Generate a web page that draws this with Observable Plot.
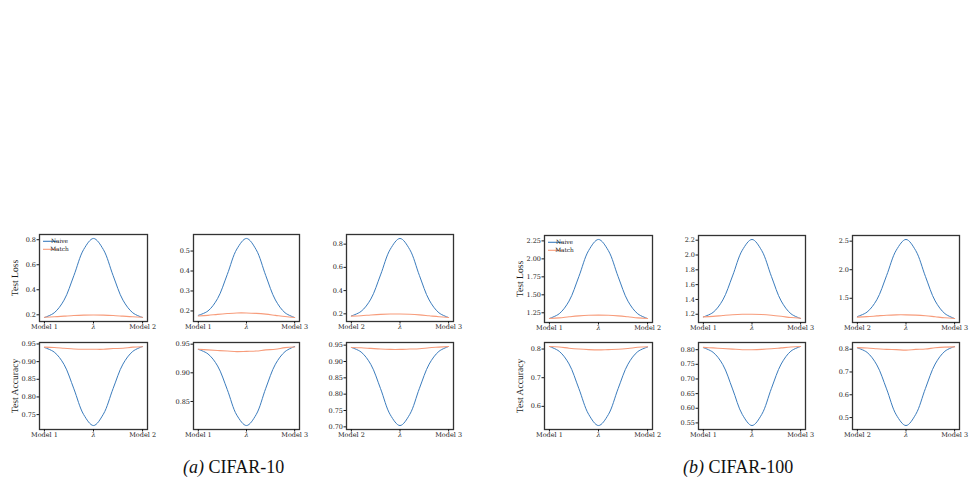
<!DOCTYPE html>
<html>
<head>
<meta charset="utf-8">
<script src="https://cdn.jsdelivr.net/npm/d3@7"></script>
<script src="https://cdn.jsdelivr.net/npm/@observablehq/plot@0.6"></script>
<style>
  html, body { margin: 0; padding: 0; background: #fff; }
  #root { position: relative; width: 973px; height: 492px; overflow: hidden; background: #fff; }
  .panel { position: absolute; }
  .cap { position: absolute; font-family: "Liberation Serif", "Times New Roman", serif; font-size: 18px; line-height: 18px; color: #111; white-space: nowrap; }
  .cap i { font-style: italic; }
  svg text { text-rendering: geometricPrecision; }
</style>
</head>
<body>
<div id="root"></div>
<script>
// ---------- data ----------
const lambda = [0, 0.1, 0.2, 0.3, 0.4, 0.5, 0.6, 0.7, 0.8, 0.9, 1.0];
const seriesNames = ["Naive", "Match"];
const captions = [["(a)", "CIFAR-10"], ["(b)", "CIFAR-100"]];
const yLabels = ["Test Loss", "Test Accuracy"];
const xTickPos = [0, 0.5, 1];
const pairLabels = [["Model 1", "λ", "Model 2"], ["Model 1", "λ", "Model 3"], ["Model 2", "λ", "Model 3"]];

// CIFAR-10 test loss
const c10Loss12Naive = [0.178, 0.216, 0.317, 0.513, 0.722, 0.810, 0.722, 0.513, 0.317, 0.216, 0.178];
const c10Loss12Match = [0.180, 0.184, 0.189, 0.194, 0.197, 0.198, 0.197, 0.194, 0.189, 0.184, 0.180];
const c10Loss13Naive = [0.178, 0.200, 0.262, 0.382, 0.510, 0.563, 0.507, 0.377, 0.255, 0.191, 0.167];
const c10Loss13Match = [0.175, 0.178, 0.183, 0.187, 0.190, 0.190, 0.188, 0.184, 0.178, 0.172, 0.167];
const c10Loss23Naive = [0.182, 0.221, 0.327, 0.535, 0.756, 0.849, 0.754, 0.529, 0.319, 0.209, 0.168];
const c10Loss23Match = [0.180, 0.184, 0.190, 0.195, 0.198, 0.198, 0.196, 0.191, 0.183, 0.175, 0.169];
// CIFAR-10 test accuracy
const c10Acc12Naive = [0.940, 0.927, 0.892, 0.823, 0.750, 0.719, 0.751, 0.824, 0.893, 0.929, 0.943];
const c10Acc12Match = [0.941, 0.940, 0.938, 0.936, 0.935, 0.935, 0.935, 0.937, 0.938, 0.941, 0.942];
const c10Acc13Naive = [0.941, 0.933, 0.912, 0.871, 0.826, 0.808, 0.827, 0.873, 0.915, 0.937, 0.946];
const c10Acc13Match = [0.941, 0.940, 0.939, 0.938, 0.937, 0.9375, 0.938, 0.940, 0.941, 0.944, 0.945];
const c10Acc23Naive = [0.943, 0.929, 0.891, 0.817, 0.737, 0.704, 0.738, 0.818, 0.892, 0.931, 0.946];
const c10Acc23Match = [0.943, 0.942, 0.940, 0.938, 0.937, 0.937, 0.938, 0.939, 0.942, 0.944, 0.946];
// CIFAR-100 test loss
const c100Loss12Naive = [1.171, 1.237, 1.413, 1.754, 2.117, 2.270, 2.116, 1.753, 1.412, 1.236, 1.170];
const c100Loss12Match = [1.170, 1.179, 1.194, 1.207, 1.215, 1.217, 1.215, 1.207, 1.194, 1.179, 1.170];
const c100Loss13Naive = [1.164, 1.225, 1.393, 1.717, 2.064, 2.210, 2.060, 1.709, 1.379, 1.207, 1.142];
const c100Loss13Match = [1.164, 1.171, 1.183, 1.194, 1.200, 1.200, 1.196, 1.186, 1.172, 1.156, 1.145];
const c100Loss23Naive = [1.180, 1.259, 1.474, 1.895, 2.342, 2.530, 2.335, 1.881, 1.453, 1.231, 1.145];
const c100Loss23Match = [1.170, 1.178, 1.191, 1.204, 1.210, 1.210, 1.205, 1.194, 1.176, 1.158, 1.145];
// CIFAR-100 test accuracy
const c100Acc12Naive = [0.809, 0.792, 0.748, 0.662, 0.572, 0.533, 0.571, 0.662, 0.747, 0.791, 0.807];
const c100Acc12Match = [0.809, 0.807, 0.803, 0.800, 0.798, 0.797, 0.798, 0.799, 0.802, 0.806, 0.808];
const c100Acc13Naive = [0.807, 0.791, 0.749, 0.666, 0.579, 0.541, 0.579, 0.668, 0.751, 0.795, 0.811];
const c100Acc13Match = [0.808, 0.806, 0.804, 0.802, 0.800, 0.800, 0.801, 0.803, 0.806, 0.809, 0.811];
const c100Acc23Naive = [0.806, 0.786, 0.731, 0.626, 0.512, 0.465, 0.514, 0.628, 0.735, 0.791, 0.812];
const c100Acc23Match = [0.807, 0.805, 0.802, 0.799, 0.798, 0.796, 0.799, 0.801, 0.806, 0.809, 0.810];

// y tick labels per panel
const ticksC10Loss12 = ["0.2", "0.4", "0.6", "0.8"];
const ticksC10Loss13 = ["0.2", "0.3", "0.4", "0.5"];
const ticksC10Loss23 = ["0.2", "0.4", "0.6", "0.8"];
const ticksC10Acc12 = ["0.75", "0.80", "0.85", "0.90", "0.95"];
const ticksC10Acc13 = ["0.85", "0.90", "0.95"];
const ticksC10Acc23 = ["0.70", "0.75", "0.80", "0.85", "0.90", "0.95"];
const ticksC100Loss12 = ["1.25", "1.50", "1.75", "2.00", "2.25"];
const ticksC100Loss13 = ["1.2", "1.4", "1.6", "1.8", "2.0", "2.2"];
const ticksC100Loss23 = ["1.5", "2.0", "2.5"];
const ticksC100Acc12 = ["0.6", "0.7", "0.8"];
const ticksC100Acc13 = ["0.55", "0.60", "0.65", "0.70", "0.75", "0.80"];
const ticksC100Acc23 = ["0.5", "0.6", "0.7", "0.8"];

// ---------- layout / style ----------
const BLUE = "#3b7cbd";
const ORANGE = "#f79c7b";
const INK = "#1a1a1a";
const ML = 42, MR = 12, MT = 4, MB = 14;
const cols = [[39, 108], [193, 106], [346, 107], [544, 108], [698, 107], [852, 107]];
const rowTop = [[234, 235], [342, 342]]; // [row][group]
const FH = 87;

const panels = [
  {col: 0, row: 0, naive: c10Loss12Naive, match: c10Loss12Match, ticks: ticksC10Loss12, pair: 0, ylabel: yLabels[0], legend: true},
  {col: 1, row: 0, naive: c10Loss13Naive, match: c10Loss13Match, ticks: ticksC10Loss13, pair: 1},
  {col: 2, row: 0, naive: c10Loss23Naive, match: c10Loss23Match, ticks: ticksC10Loss23, pair: 2},
  {col: 0, row: 1, naive: c10Acc12Naive, match: c10Acc12Match, ticks: ticksC10Acc12, pair: 0, ylabel: yLabels[1]},
  {col: 1, row: 1, naive: c10Acc13Naive, match: c10Acc13Match, ticks: ticksC10Acc13, pair: 1},
  {col: 2, row: 1, naive: c10Acc23Naive, match: c10Acc23Match, ticks: ticksC10Acc23, pair: 2},
  {col: 3, row: 0, naive: c100Loss12Naive, match: c100Loss12Match, ticks: ticksC100Loss12, pair: 0, ylabel: yLabels[0], legend: true},
  {col: 4, row: 0, naive: c100Loss13Naive, match: c100Loss13Match, ticks: ticksC100Loss13, pair: 1},
  {col: 5, row: 0, naive: c100Loss23Naive, match: c100Loss23Match, ticks: ticksC100Loss23, pair: 2},
  {col: 3, row: 1, naive: c100Acc12Naive, match: c100Acc12Match, ticks: ticksC100Acc12, pair: 0, ylabel: yLabels[1]},
  {col: 4, row: 1, naive: c100Acc13Naive, match: c100Acc13Match, ticks: ticksC100Acc13, pair: 1},
  {col: 5, row: 1, naive: c100Acc23Naive, match: c100Acc23Match, ticks: ticksC100Acc23, pair: 2},
];

const root = document.getElementById("root");

function legendMark(index, scales, values, dims) {
  const g = d3.create("svg:g");
  const x0 = dims.marginLeft + 4, x1 = x0 + 14;
  const ys = [dims.marginTop + 7.3, dims.marginTop + 15.3];
  const colors = [BLUE, ORANGE];
  seriesNames.forEach((name, i) => {
    g.append("line").attr("x1", x0).attr("x2", x1).attr("y1", ys[i]).attr("y2", ys[i])
      .attr("stroke", colors[i]).attr("stroke-width", 1.1);
    g.append("text").attr("x", x1 + 2.5).attr("y", ys[i]).attr("dy", "0.35em")
      .attr("font-family", "DejaVu Serif").attr("font-size", 5.8).attr("fill", INK).text(name);
  });
  return g.node();
}

panels.forEach(p => {
  const [left, fw] = cols[p.col];
  const top = rowTop[p.row][p.col < 3 ? 0 : 1];
  const all = p.naive.concat(p.match);
  const [lo, hi] = d3.extent(all);
  const pad = (hi - lo) * 0.05;
  const yTicks = p.ticks.map(Number);
  const xl = pairLabels[p.pair];
  const marks = [
    Plot.line(p.naive, {x: (d, i) => lambda[i], y: d => d, stroke: BLUE, strokeWidth: 1, curve: "catmull-rom"}),
    Plot.line(p.match, {x: (d, i) => lambda[i], y: d => d, stroke: ORANGE, strokeWidth: 1.1, curve: "catmull-rom"}),
    Plot.frame({stroke: "#333", strokeWidth: 1.3}),
    Plot.axisX({ticks: xTickPos, tickFormat: (d) => xl[xTickPos.indexOf(d)], tickSize: 2.5, tickPadding: 0.5,
      label: null, stroke: INK, fill: INK}),
    Plot.axisY({ticks: yTicks, tickFormat: d => p.ticks[yTicks.indexOf(d)], tickSize: 2.5, tickPadding: 1,
      stroke: INK, fill: INK,
      label: p.ylabel ?? null, labelAnchor: "center", labelOffset: 28, labelArrow: "none"})
  ];
  if (p.legend) marks.push(legendMark);
  const chart = Plot.plot({
    width: ML + fw + MR,
    height: MT + FH + MB,
    marginLeft: ML, marginRight: MR, marginTop: MT, marginBottom: MB,
    style: {background: "none", overflow: "visible", fontFamily: "DejaVu Serif", fontSize: "6.5px", color: INK},
    x: {domain: [-0.05, 1.05]},
    y: {domain: [lo - pad, hi + pad]},
    marks
  });
  const s = d3.select(chart);
  s.selectAll('g[aria-label="x-axis tick label"] text').filter(function () { return this.textContent === "λ"; })
    .style("font-style", "italic");
  s.selectAll('g[aria-label="y-axis label"] text')
    .style("font-family", '"Liberation Serif", serif').style("font-size", "9.6px").style("fill", INK);
  const wrap = document.createElement("div");
  wrap.className = "panel";
  wrap.style.left = (left - ML) + "px";
  wrap.style.top = (top - MT) + "px";
  wrap.appendChild(chart);
  root.appendChild(wrap);
});

// captions
const capPos = [[183, 458], [683, 458]];
captions.forEach(([a, b], i) => {
  const d = document.createElement("div");
  d.className = "cap";
  d.style.left = capPos[i][0] + "px";
  d.style.top = capPos[i][1] + "px";
  const it = document.createElement("i");
  it.textContent = a;
  d.appendChild(it);
  d.appendChild(document.createTextNode(" " + b));
  root.appendChild(d);
});
</script>
</body>
</html>
